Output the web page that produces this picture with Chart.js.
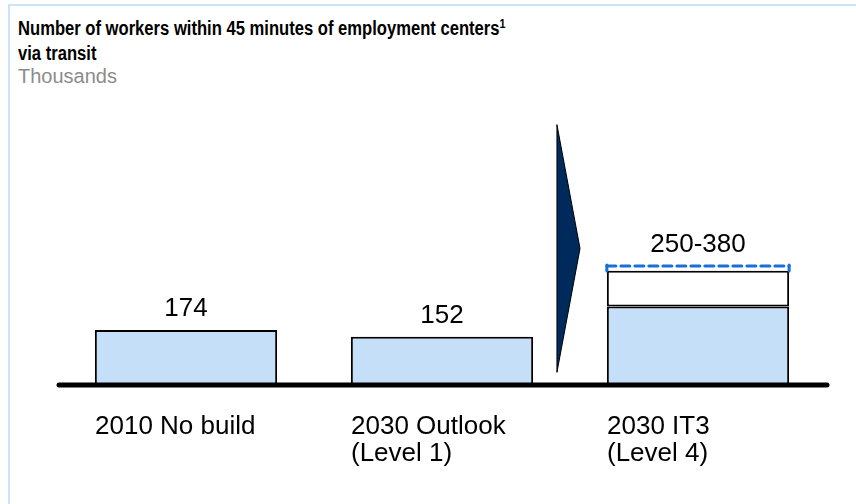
<!DOCTYPE html>
<html>
<head>
<meta charset="utf-8">
<script src="https://cdn.jsdelivr.net/npm/chart.js@4.4.0/dist/chart.umd.min.js"></script>
<style>
  html, body { margin: 0; padding: 0; background: #fff; }
  body { width: 856px; height: 504px; position: relative; overflow: hidden; font-family: "Liberation Sans", Arial, sans-serif; }
  .frame { position: absolute; left: 8px; top: 4px; width: 900px; height: 600px; border-top: 2px solid #cfe3f8; border-left: 2px solid #cfe3f8; }
  .title { position: absolute; left: 18px; top: 16px; font-weight: bold; font-size: 20px; line-height: 25px; color: #000; transform: scaleX(0.83); transform-origin: 0 0; white-space: nowrap; }
  .title sup { font-size: 13px; line-height: 0; vertical-align: 7px; }
  .unit { position: absolute; left: 18px; top: 65px; font-size: 20px; color: #8c8c8c; }
  #wrap { position: absolute; left: 0; top: 0; width: 856px; height: 504px; }
</style>
</head>
<body>
<div class="frame"></div>
<div class="title">Number of workers within 45 minutes of employment centers<sup>1</sup><br>via transit</div>
<div class="unit">Thousands</div>
<div id="wrap"><canvas id="chart"></canvas></div>

<script>
// datos
const categorias = [["2010 No build"], ["2030 Outlook", "(Level 1)"], ["2030 IT3", "(Level 4)"]]
const base = [174, 152, 250]
const rango = [0, 0, 115]     // white part on top of IT3
const maximo = [null, null, 380] // dashed line
const etiquetas = ["174", "152", "250-380"]

const AZUL = '#c6dff8'
const FUENTE = '"Liberation Sans", Arial, sans-serif'

// plugin para eje, flecha, linea punteada y etiquetas
const extras = {
  id: 'extras',
  afterDatasetsDraw(chart) {
    const ctx = chart.ctx
    const x = chart.scales.x
    const y = chart.scales.y
    const area = chart.chartArea
    const y0 = y.getPixelForValue(0)

    // eje
    ctx.save()
    ctx.strokeStyle = '#000'
    ctx.lineWidth = 5
    ctx.lineCap = 'round'
    ctx.beginPath()
    ctx.moveTo(area.left + 1, y0 + 1)
    ctx.lineTo(area.right + 1, y0 + 1)
    ctx.stroke()

    // flecha entre las categorias 2 y 3
    const medio = (x.getPixelForValue(1) + x.getPixelForValue(2)) / 2
    const top = area.top + 25
    const bottom = y0 - 12
    ctx.fillStyle = '#002a5c'
    ctx.strokeStyle = '#000'
    ctx.lineWidth = 1
    ctx.beginPath()
    ctx.moveTo(medio - 13, top)
    ctx.lineTo(medio + 10, (top + bottom) / 2)
    ctx.lineTo(medio - 13, bottom)
    ctx.closePath()
    ctx.fill()
    ctx.stroke()

    // etiquetas de valor y linea punteada
    const meta0 = chart.getDatasetMeta(0)
    ctx.fillStyle = '#000'
    ctx.font = '26px ' + FUENTE
    ctx.textAlign = 'center'
    ctx.textBaseline = 'bottom'
    meta0.data.forEach((bar, i) => {
      let yTop = bar.y
      if (maximo[i] != null) {
        const yMax = y.getPixelForValue(maximo[i])
        const l = bar.x - bar.width / 2
        const r = bar.x + bar.width / 2
        ctx.strokeStyle = '#1a6fd6'
        ctx.lineWidth = 3
        ctx.setLineDash([9, 5])
        ctx.beginPath()
        ctx.moveTo(l, yMax)
        ctx.lineTo(r, yMax)
        ctx.stroke()
        ctx.setLineDash([])
        ctx.beginPath()
        ctx.moveTo(l, yMax - 1)
        ctx.lineTo(l, yMax + 5)
        ctx.moveTo(r, yMax - 1)
        ctx.lineTo(r, yMax + 5)
        ctx.stroke()
        yTop = yMax
      }
      ctx.fillText(etiquetas[i], bar.x, yTop - 8)
    })
    ctx.restore()
  }
}

new Chart(document.getElementById('chart'), {
  type: 'bar',
  data: {
    labels: categorias,
    datasets: [
      {
        label: 'Base',
        data: base,
        backgroundColor: AZUL,
        borderColor: '#000',
        borderWidth: 2,
        borderSkipped: 'bottom'
      },
      {
        label: 'Rango',
        data: rango,
        backgroundColor: '#fff',
        borderColor: '#000',
        borderWidth: 2,
        borderSkipped: false
      }
    ]
  },
  options: {
    responsive: true,
    maintainAspectRatio: false,
    animation: false,
    layout: { padding: { top: 100, left: 18, right: 30, bottom: 0 } },
    datasets: { bar: { categoryPercentage: 1, barPercentage: 0.712 } },
    plugins: {
      legend: { display: false },
      tooltip: { enabled: false }
    },
    scales: {
      x: {
        stacked: true,
        grid: { display: false },
        border: { display: false },
        afterFit: (s) => { s.height = 120 },
        ticks: {
          align: 'start',
          labelOffset: -91,
          padding: 22,
          color: '#000',
          font: { family: FUENTE, size: 26, lineHeight: 1.02 }
        }
      },
      y: {
        stacked: true,
        min: 0,
        max: 915,
        grid: { display: false },
        border: { display: false },
        ticks: { display: false },
        afterFit: (s) => { s.width = 40 }
      }
    }
  },
  plugins: [extras]
})
</script>
</body>
</html>
